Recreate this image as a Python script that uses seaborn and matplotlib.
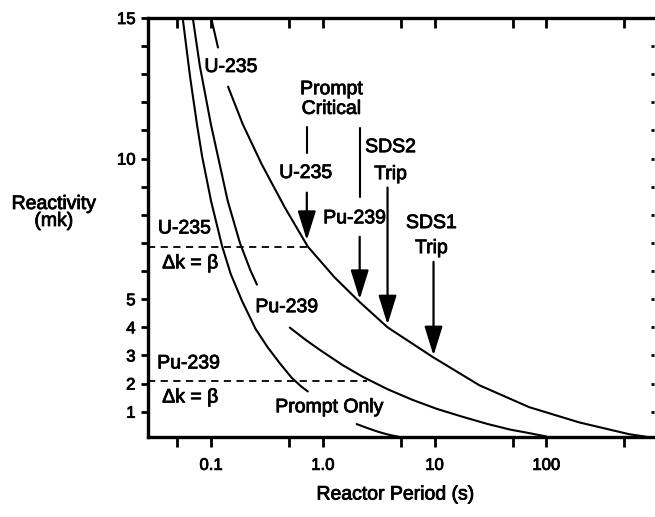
import matplotlib
matplotlib.use("Agg")
import matplotlib.pyplot as plt
import matplotlib.patheffects as pe
import seaborn as sns
import numpy as np
import pandas as pd
from matplotlib.ticker import FixedLocator, FixedFormatter

# ---------------- data ----------------
# Prompt-only curve (two segments, gap for label)
prompt1_T = [0.0562, 0.065, 0.075, 0.0831, 0.10, 0.1254, 0.15, 0.189, 0.25, 0.32, 0.413, 0.529, 0.64, 0.735]
prompt1_rho = [14.9, 12.9, 11.2, 10.1, 8.5, 6.9, 5.9, 4.95, 3.95, 3.3, 2.72, 2.2, 1.9, 1.72]
prompt2_T = [2.01, 2.5, 3.0, 3.5, 4.0, 4.87]
prompt2_rho = [0.56, 0.42, 0.31, 0.23, 0.17, 0.10]

# Pu-239 curve
pu1_T = [0.069, 0.0794, 0.10, 0.1155, 0.141, 0.1815, 0.224, 0.2575]
pu1_rho = [14.95, 13.3, 11.2, 10.07, 8.5, 7.0, 6.05, 5.52]
pu2_T = [0.507, 0.70, 0.94, 1.5, 2.28, 3.8, 6.36, 10.5, 17.8, 30.0, 48.0, 70.0, 100.0]
pu2_rho = [3.99, 3.56, 3.20, 2.66, 2.24, 1.80, 1.42, 1.10, 0.82, 0.56, 0.36, 0.24, 0.12]

# U-235 curve
u1_T = [0.102, 0.1155]
u1_rho = [14.88, 13.95]
u2_T = [0.142, 0.193, 0.285, 0.458, 0.735, 1.28, 2.14, 3.8, 9.6, 25.2, 70.5, 197.0, 551.0, 781.0]
u2_rho = [12.56, 11.21, 9.79, 8.26, 6.87, 5.77, 4.90, 4.00, 2.95, 1.94, 1.16, 0.62, 0.20, 0.11]

# delayed neutron fraction lines (delta k = beta)
beta_u235 = 6.87
beta_u235_Tend = 0.735
beta_pu239 = 2.10
beta_pu239_Tend = 2.5

# arrows: (period, start reactivity, tip reactivity)
arrow_T = [0.72, 2.14, 3.8, 9.8]
arrow_start = [8.79, 7.22, 8.97, 6.33]
arrow_tip = [7.1, 5.0, 4.1, 3.0]

# short connector lines below "Prompt Critical"
conn_T = [0.73, 2.14]
conn_top = [11.14, 11.10]
conn_bot = [10.21, 8.65]

x_ticks = [0.05, 0.1, 0.5, 1, 5, 10, 50, 100, 500]
x_labels = ["", "0.1", "", "1.0", "", "10", "", "100", ""]
y_ticks = list(range(1, 16))
y_labels = ["1", "2", "3", "4", "5", "", "", "", "", "10", "", "", "", "", "15"]

# ---------------- plotting ----------------
sns.set_style("ticks")
plt.rcParams["font.family"] = ["Liberation Sans", "DejaVu Sans"]
for k in ["text.color", "axes.labelcolor", "xtick.color", "ytick.color", "axes.edgecolor"]:
    plt.rcParams[k] = "black"

fig = plt.figure(figsize=(6.55, 5.17), dpi=100)
ax = fig.add_axes([148/655, 1-437/517, (654-148)/655, (437-18)/517])

segments = [
    (prompt1_T, prompt1_rho), (prompt2_T, prompt2_rho),
    (pu1_T, pu1_rho), (pu2_T, pu2_rho),
    (u1_T, u1_rho), (u2_T, u2_rho),
]
for i, (t, r) in enumerate(segments):
    df = pd.DataFrame({"T": t, "rho": r})
    sns.lineplot(data=df, x="T", y="rho", ax=ax, color="black", lw=1.5,
                 sort=False, estimator=None)

ax.set_xscale("log")
xmin, xmax = 0.0273, 921
ax.set_xlim(xmin, xmax)
ax.set_ylim(0.1, 15.0)

# dashed beta lines
ax.plot([xmin, beta_u235_Tend], [beta_u235, beta_u235], color="black", lw=1.3,
        ls=(0, (4, 3)))
ax.plot([xmin, beta_pu239_Tend], [beta_pu239, beta_pu239], color="black", lw=1.3,
        ls=(0, (4, 3)))

# connectors and arrows
for t, a, b in zip(conn_T, conn_top, conn_bot):
    ax.plot([t, t], [a, b], color="black", lw=1.5)
for t, s, e in zip(arrow_T, arrow_start, arrow_tip):
    ax.annotate("", xy=(t, e), xytext=(t, s),
                arrowprops=dict(arrowstyle="-|>,head_length=0.9,head_width=0.28",
                                color="black", lw=1.6, mutation_scale=20,
                                shrinkA=0, shrinkB=0))

fs = 14
thick = [pe.withStroke(linewidth=0.6, foreground="black")]
def t(x, y, s, ha="center"):
    ax.text(x, y, s, ha=ha, va="center", fontsize=fs, path_effects=thick)

t(0.151, 13.24, "U-235")
t(1.2, 12.45, "Prompt")
t(1.2, 11.75, "Critical")
t(0.705, 9.47, "U-235")
t(4.05, 10.39, "SDS2")
t(4.05, 9.43, "Trip")
t(1.93, 7.86, "Pu-239")
t(9.4, 7.69, "SDS1")
t(9.4, 6.80, "Trip")
t(0.0335, 7.5, "U-235", ha="left")
t(0.0366, 6.26, "\u0394k = \u03b2", ha="left")
t(0.0330, 2.70, "Pu-239", ha="left")
t(0.0366, 1.49, "\u0394k = \u03b2", ha="left")
t(0.477, 4.70, "Pu-239")
t(1.15, 1.14, "Prompt Only")

# axes styling
for s in ["left", "bottom", "top"]:
    ax.spines[s].set_linewidth(2.4)
ax.spines["right"].set_visible(False)

ax.xaxis.set_major_locator(FixedLocator(x_ticks))
ax.xaxis.set_major_formatter(FixedFormatter(x_labels))
ax.xaxis.set_minor_locator(FixedLocator([]))
ax.yaxis.set_major_locator(FixedLocator(y_ticks))
ax.yaxis.set_major_formatter(FixedFormatter(y_labels))
ax.tick_params(axis="x", direction="out", length=7, width=2, labelsize=12, pad=8)
ax.tick_params(axis="y", direction="out", length=5, width=2, labelsize=12, pad=4)
for lab in ax.get_xticklabels() + ax.get_yticklabels():
    lab.set_path_effects(thick)

top = ax.secondary_xaxis("top")
top.xaxis.set_major_locator(FixedLocator(x_ticks))
top.xaxis.set_minor_locator(FixedLocator([]))
top.tick_params(direction="in", length=7, width=2, labeltop=False)
for s in top.spines.values():
    s.set_visible(False)

right = ax.secondary_yaxis("right")
right.yaxis.set_major_locator(FixedLocator(y_ticks[:-1]))
right.tick_params(direction="in", length=2, width=2, labelright=False)
for s in right.spines.values():
    s.set_visible(False)

ax.set_xlabel("")
ax.set_ylabel("")
fig.text(54/655, 1-213/517, "Reactivity\n(mk)", ha="center", va="center",
         fontsize=fs, linespacing=1.0, path_effects=thick)
fig.text(396/655, 1-495/517, "Reactor Period (s)", ha="center", va="center",
         fontsize=fs, path_effects=thick)

fig.savefig("out.png", dpi=100)
